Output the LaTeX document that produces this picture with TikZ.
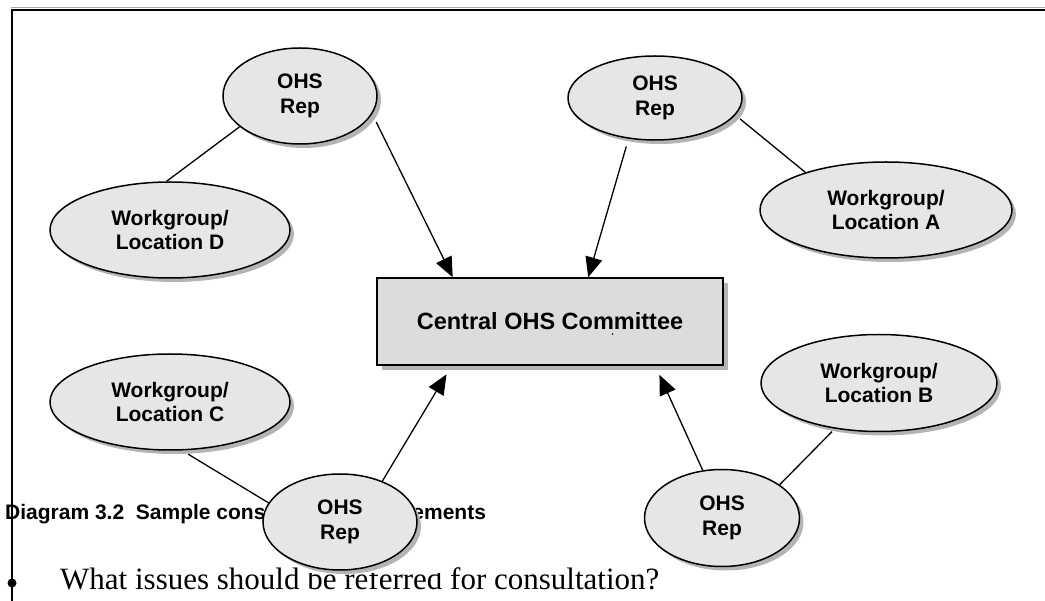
\documentclass[tikz,border=0pt]{standalone}
\usepackage{fontspec}
\setmainfont{Liberation Serif}
\setsansfont{Liberation Sans}
\usetikzlibrary{shapes.geometric,shadows,arrows.meta,calc}

\definecolor{bubblefill}{HTML}{E6E6E6}
\definecolor{boxfill}{HTML}{DCDCDC}
\definecolor{shadowgrey}{HTML}{B4B4B4}
\definecolor{rulegrey}{HTML}{A8A8A8}

\begin{document}
\begin{tikzpicture}[x=1pt,y=-1pt,
  labelfont/.style={font=\sffamily\bfseries\fontsize{21}{24.5}\selectfont},
  bubble/.style={ellipse, draw=black, line width=1.5pt, fill=bubblefill,
    inner sep=0pt, align=center, labelfont,
    drop shadow={shadow xshift=4pt, shadow yshift=-4pt, fill=shadowgrey, opacity=1}},
  board/.style={rectangle, draw=black, line width=1.5pt, fill=boxfill,
    inner sep=0pt, font=\sffamily\bfseries\fontsize{23.5}{27}\selectfont,
    drop shadow={shadow xshift=5pt, shadow yshift=-5pt, fill=shadowgrey, opacity=1}},
  link/.style={line width=1.3pt},
  flow/.style={line width=1.3pt, -{Triangle[length=20pt,width=17pt]}}
]
\useasboundingbox (0,0) rectangle (1045,601);

% page frame
\draw[rulegrey, line width=1pt] (11,7.5) -- (1045,7.5);
\draw[black, line width=1.7pt] (11,10) -- (1045,10);
\draw[black, line width=1.7pt] (12,9.2) -- (12,601);

% caption and the bullet line beneath the figure
\node[anchor=base west, inner sep=0pt, font=\sffamily\bfseries\fontsize{21}{24}\selectfont]
  (caption) at (5,520) {Diagram 3.2\ \ Sample consultation arrangements};
\node[circle, fill=black, inner sep=0pt, minimum size=9pt] (bullet) at (12,583) {};
\node[anchor=base west, inner sep=0pt, font=\fontsize{31}{36}\selectfont]
  (question) at (60,589) {What issues should be referred for consultation?};
% the figure canvas masks the ascenders of the line below it
\fill[white] (302,540) rectangle (446,573);

% central committee
\node[board, minimum width=346pt, minimum height=87pt] (com) at (550,321.5) {Central OHS Committee};
\fill (612.5,334) circle (0.9pt);

% representatives
\node[bubble, minimum width=154pt, minimum height=96pt] (rep1) at (300,96) {OHS\\Rep};
\node[bubble, minimum width=174pt, minimum height=84pt] (rep2) at (655,98) {OHS\\Rep};
\node[bubble, minimum width=154pt, minimum height=96pt] (rep3) at (340,522) {OHS\\Rep};
\node[bubble, minimum width=155pt, minimum height=97pt] (rep4) at (722,518) {OHS\\Rep};

% workgroups
\node[bubble, minimum width=240pt, minimum height=96pt] (wgD) at (170,230) {Workgroup/\\Location D};
\node[bubble, minimum width=252pt, minimum height=96pt] (wgA) at (886,210) {Workgroup/\\Location A};
\node[bubble, minimum width=240pt, minimum height=96pt] (wgC) at (170,402) {Workgroup/\\Location C};
\node[bubble, minimum width=236pt, minimum height=97pt] (wgB) at (879,383) {Workgroup/\\Location B};

% workgroup links
\draw[link] (rep1.207) -- (wgD.94);
\draw[link, shorten <=6pt] (rep2.348) -- (wgA.155);
\draw[link, shorten <=7pt] (wgC.284) -- (rep3.165);
\draw[link, shorten <=4pt] (wgB.226) -- (rep4.30);

% reports to the committee
\draw[flow, shorten <=9pt] (rep1.346) -- ($(com.north west)!0.22!(com.north east)$);
\draw[flow, shorten <=8pt] (rep2.237) -- ($(com.north west)!0.61!(com.north east)$);
\draw[flow, shorten >=10pt] (rep3.44) -- ($(com.south west)!0.217!(com.south east)$);
\draw[flow, shorten >=10pt] (rep4.112) -- ($(com.south west)!0.803!(com.south east)$);
\end{tikzpicture}
\end{document}
